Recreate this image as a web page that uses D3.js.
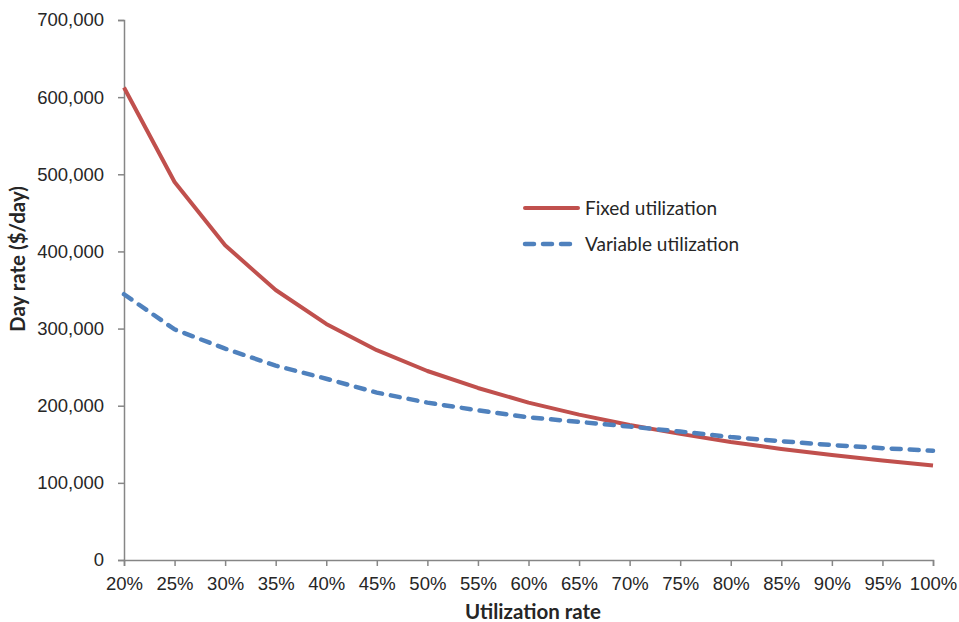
<!DOCTYPE html>
<html>
<head>
<meta charset="utf-8">
<script src="https://cdn.jsdelivr.net/npm/d3@7"></script>
<style>
  html, body { margin: 0; padding: 0; background: #fff; }
  svg { display: block; font-family: Lato, "Open Sans", sans-serif; }
</style>
</head>
<body>
<svg id="chart" width="959" height="622"></svg>
<script>
// Utilization rates (x categories)
const utilization = [0.20, 0.25, 0.30, 0.35, 0.40, 0.45, 0.50, 0.55, 0.60,
                     0.65, 0.70, 0.75, 0.80, 0.85, 0.90, 0.95, 1.00];
// Day rate under fixed utilization ($/day)
const fixedRate = [612500, 490000, 408000, 350000, 306000, 272000, 245000, 223000, 204000,
                   188500, 175000, 163500, 153000, 144000, 136000, 129000, 122500];
// Day rate under variable utilization ($/day)
const variableRate = [344500, 299000, 274000, 252000, 235000, 217000, 204000, 194000, 185000,
                      179000, 173000, 166500, 159500, 154000, 149000, 145000, 141500];
const yTicks = [0, 100000, 200000, 300000, 400000, 500000, 600000, 700000];
const seriesNames = ["Fixed utilization", "Variable utilization"];

const svg = d3.select("#chart");
const margin = { left: 124, right: 26, top: 20, bottom: 62 };
const W = 959, H = 622;

const x = d3.scaleLinear().domain([0.20, 1.00]).range([margin.left, W - margin.right]);
const y = d3.scaleLinear().domain([0, 700000]).range([H - margin.bottom, margin.top]);

const axisColor = "#868686";
const textColor = "#262626";

// Y axis
const yAxis = svg.append("g")
  .attr("transform", `translate(${margin.left},0)`)
  .call(d3.axisLeft(y).tickValues(yTicks).tickSize(6).tickPadding(14)
        .tickFormat(d3.format(",")));
yAxis.select(".domain").attr("stroke", axisColor).attr("stroke-width", 1.5);
yAxis.selectAll(".tick line").attr("stroke", axisColor).attr("stroke-width", 1.5);
yAxis.selectAll(".tick text").attr("fill", textColor).attr("font-size", 18.5);

// X axis
const xAxis = svg.append("g")
  .attr("transform", `translate(0,${H - margin.bottom})`)
  .call(d3.axisBottom(x).tickValues(utilization).tickSize(6).tickPadding(11)
        .tickFormat(d3.format(".0%")));
xAxis.select(".domain").attr("stroke", axisColor).attr("stroke-width", 1.5);
xAxis.selectAll(".tick line").attr("stroke", axisColor).attr("stroke-width", 1.5);
xAxis.selectAll(".tick text").attr("fill", textColor).attr("font-size", 18.5);

// Axis titles
svg.append("text")
  .attr("x", 533).attr("y", 619)
  .attr("text-anchor", "middle")
  .attr("font-size", 20.5).attr("font-weight", "bold").attr("fill", textColor)
  .text("Utilization rate");
svg.append("text")
  .attr("transform", "translate(25,259) rotate(-90)")
  .attr("text-anchor", "middle")
  .attr("font-size", 20.5).attr("font-weight", "bold").attr("fill", textColor)
  .text("Day rate ($/day)");

// Series lines
const line = d3.line().x((d, i) => x(utilization[i])).y(d => y(d));

svg.append("path")
  .datum(fixedRate)
  .attr("d", line)
  .attr("fill", "none")
  .attr("stroke", "#C0504D")
  .attr("stroke-width", 4)
  .attr("stroke-linejoin", "round");

svg.append("path")
  .datum(variableRate)
  .attr("d", line)
  .attr("fill", "none")
  .attr("stroke", "#4F81BD")
  .attr("stroke-width", 4.5)
  .attr("stroke-linecap", "round")
  .attr("stroke-dasharray", "9,9");

// Legend
const legend = svg.append("g");
const legendItems = [
  { name: seriesNames[0], color: "#C0504D", dash: null, y: 208 },
  { name: seriesNames[1], color: "#4F81BD", dash: "9,9", y: 244 }
];
legendItems.forEach(it => {
  const l = legend.append("line")
    .attr("x1", 525).attr("x2", 578)
    .attr("y1", it.y).attr("y2", it.y)
    .attr("stroke", it.color)
    .attr("stroke-width", it.dash ? 4.5 : 4)
    .attr("stroke-linecap", "round");
  if (it.dash) l.attr("stroke-dasharray", it.dash);
  legend.append("text")
    .attr("x", 585).attr("y", it.y)
    .attr("dy", "0.35em")
    .attr("font-size", 19).attr("fill", textColor)
    .text(it.name);
});
</script>
</body>
</html>
